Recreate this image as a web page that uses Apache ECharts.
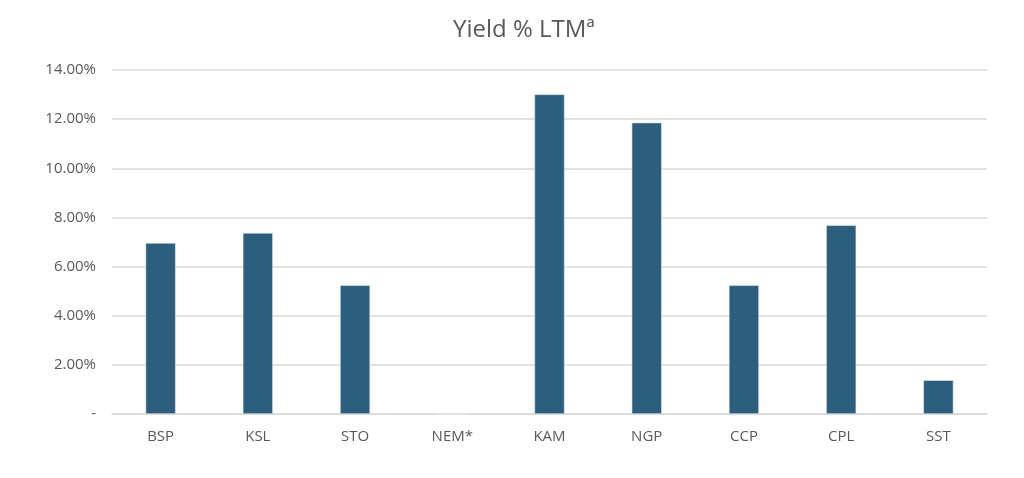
<!DOCTYPE html>
<html>
<head>
<meta charset="utf-8">
<script src="https://cdn.jsdelivr.net/npm/echarts@6/dist/echarts.min.js"></script>
<style>html,body{margin:0;padding:0;background:#fff;}#c{width:1024px;height:478px;}</style>
</head>
<body>
<div id="c"></div>
<script>
const categories = ['BSP', 'KSL', 'STO', 'NEM*', 'KAM', 'NGP', 'CCP', 'CPL', 'SST'];
const yieldValues = [0.0696, 0.0737, 0.0524, 0, 0.1301, 0.1186, 0.0524, 0.0768, 0.0138];
const titleText = 'Yield % LTMª';

const chart = echarts.init(document.getElementById('c'));
chart.setOption({
  animation: false,
  backgroundColor: '#ffffff',
  title: {
    text: titleText,
    left: 448,
    top: 13,
    textStyle: { fontFamily: 'Open Sans', fontSize: 24, fontWeight: 'normal', color: '#595959' }
  },
  grid: { left: 112, right: 37, top: 70, bottom: 64 },
  xAxis: {
    type: 'category',
    data: categories,
    axisLine: { show: true, lineStyle: { color: '#d9d9d9', width: 1.5 } },
    axisTick: { show: false },
    axisLabel: { color: '#595959', fontFamily: 'Open Sans', fontSize: 15, margin: 15 }
  },
  yAxis: {
    type: 'value',
    min: 0,
    max: 0.14,
    interval: 0.02,
    axisLine: { show: false },
    axisTick: { show: false },
    splitLine: { lineStyle: { color: '#d9d9d9', width: 1.5 } },
    axisLabel: {
      color: '#595959', fontFamily: 'Open Sans', fontSize: 15, margin: 16,
      formatter: v => v === 0 ? '-' : (v * 100).toFixed(2) + '%'
    }
  },
  series: [{
    type: 'bar',
    data: yieldValues,
    barWidth: '31%',
    itemStyle: { color: '#2d5e7e', borderColor: '#e3ebf2', borderWidth: 0.6 }
  }]
});
</script>
</body>
</html>
